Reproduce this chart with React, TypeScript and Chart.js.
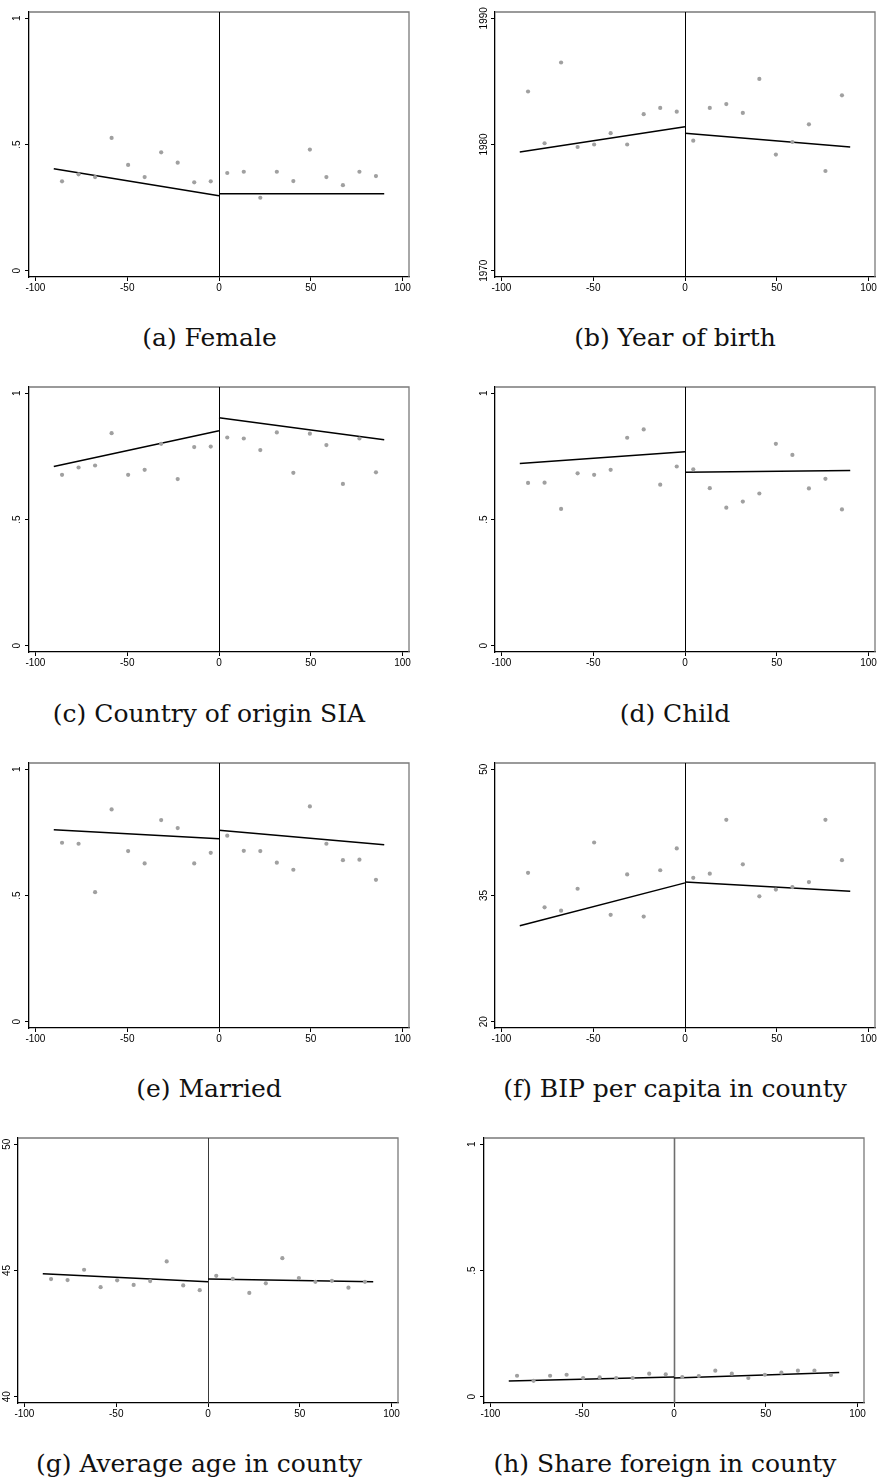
import React, { useEffect, useRef } from "react";
import { Chart, registerables } from "chart.js";

Chart.register(...registerables);

// Bin midpoints of the running variable (distance to threshold)
const binX = [
  -85.5, -76.5, -67.5, -58.5, -49.5, -40.5, -31.5, -22.5, -13.5, -4.5,
  4.5, 13.5, 22.5, 31.5, 40.5, 49.5, 58.5, 67.5, 76.5, 85.5,
];
// Linear fits on each side of the cutoff
const fitXLeft = [-90, 0];
const fitXRight = [0, 90];
const xTicks = [-100, -50, 0, 50, 100];

// (a) Female
const femaleMeans = [0.354, 0.382, 0.371, 0.526, 0.419, 0.371, 0.469, 0.428, 0.35, 0.354, 0.387, 0.392, 0.289, 0.392, 0.355, 0.48, 0.371, 0.339, 0.392, 0.375];
const femaleFitLeft = [0.404, 0.297];
const femaleFitRight = [0.305, 0.305];

// (b) Year of birth
const birthYearMeans = [1984.2, 1980.1, 1986.5, 1979.8, 1980.0, 1980.9, 1980.0, 1982.4, 1982.9, 1982.6, 1980.3, 1982.9, 1983.2, 1982.5, 1985.2, 1979.2, 1980.2, 1981.6, 1977.9, 1983.9];
const birthYearFitLeft = [1979.4, 1981.4];
const birthYearFitRight = [1980.9, 1979.8];

// (c) Country of origin SIA
const originMeans = [0.677, 0.706, 0.714, 0.842, 0.677, 0.697, 0.8, 0.66, 0.787, 0.789, 0.825, 0.821, 0.775, 0.845, 0.685, 0.84, 0.795, 0.641, 0.821, 0.687];
const originFitLeft = [0.71, 0.852];
const originFitRight = [0.903, 0.816];

// (d) Child
const childMeans = [0.645, 0.646, 0.542, 0.683, 0.677, 0.697, 0.824, 0.857, 0.638, 0.71, 0.699, 0.624, 0.547, 0.571, 0.603, 0.8, 0.756, 0.623, 0.661, 0.54];
const childFitLeft = [0.722, 0.768];
const childFitRight = [0.687, 0.694];

// (e) Married
const marriedMeans = [0.709, 0.705, 0.513, 0.841, 0.676, 0.627, 0.799, 0.767, 0.627, 0.669, 0.737, 0.677, 0.676, 0.63, 0.602, 0.853, 0.705, 0.64, 0.642, 0.562];
const marriedFitLeft = [0.761, 0.725];
const marriedFitRight = [0.759, 0.701];

// (f) BIP per capita in county
const bipMeans = [37.7, 33.6, 33.2, 35.8, 41.3, 32.7, 37.5, 32.5, 38.0, 40.6, 37.1, 37.6, 44.0, 38.7, 34.9, 35.7, 36.0, 36.6, 44.0, 39.2];
const bipFitLeft = [31.4, 36.5];
const bipFitRight = [36.6, 35.5];

// (g) Average age in county
const ageMeans = [44.66, 44.62, 45.03, 44.34, 44.61, 44.43, 44.58, 45.36, 44.41, 44.22, 44.79, 44.67, 44.11, 44.49, 45.49, 44.7, 44.55, 44.59, 44.32, 44.55];
const ageFitLeft = [44.87, 44.55];
const ageFitRight = [44.66, 44.55];

// (h) Share foreign in county
const foreignMeans = [0.083, 0.063, 0.083, 0.087, 0.074, 0.077, 0.074, 0.074, 0.091, 0.089, 0.078, 0.082, 0.103, 0.091, 0.074, 0.087, 0.095, 0.103, 0.103, 0.086];
const foreignFitLeft = [0.062, 0.078];
const foreignFitRight = [0.074, 0.096];

// y-axis tick values and their labels
const shareTicks = [0, 0.5, 1];
const shareTickLabels = ["0", ".5", "1"];
const yearTicks = [1970, 1980, 1990];
const yearTickLabels = ["1970", "1980", "1990"];
const bipTicks = [20, 35, 50];
const bipTickLabels = ["20", "35", "50"];
const ageTicks = [40, 45, 50];
const ageTickLabels = ["40", "45", "50"];

type PanelSpec = {
  caption: string;
  means: number[];
  fitLeft: number[];
  fitRight: number[];
  yTicks: number[];
  yLabels: string[];
  yMin: number;
  yMax: number;
};

const panels: PanelSpec[] = [
  { caption: "(a) Female", means: femaleMeans, fitLeft: femaleFitLeft, fitRight: femaleFitRight, yTicks: shareTicks, yLabels: shareTickLabels, yMin: -0.025, yMax: 1.025 },
  { caption: "(b) Year of birth", means: birthYearMeans, fitLeft: birthYearFitLeft, fitRight: birthYearFitRight, yTicks: yearTicks, yLabels: yearTickLabels, yMin: 1969.5, yMax: 1990.5 },
  { caption: "(c) Country of origin SIA", means: originMeans, fitLeft: originFitLeft, fitRight: originFitRight, yTicks: shareTicks, yLabels: shareTickLabels, yMin: -0.025, yMax: 1.025 },
  { caption: "(d) Child", means: childMeans, fitLeft: childFitLeft, fitRight: childFitRight, yTicks: shareTicks, yLabels: shareTickLabels, yMin: -0.025, yMax: 1.025 },
  { caption: "(e) Married", means: marriedMeans, fitLeft: marriedFitLeft, fitRight: marriedFitRight, yTicks: shareTicks, yLabels: shareTickLabels, yMin: -0.025, yMax: 1.025 },
  { caption: "(f) BIP per capita in county", means: bipMeans, fitLeft: bipFitLeft, fitRight: bipFitRight, yTicks: bipTicks, yLabels: bipTickLabels, yMin: 19.25, yMax: 50.75 },
  { caption: "(g) Average age in county", means: ageMeans, fitLeft: ageFitLeft, fitRight: ageFitRight, yTicks: ageTicks, yLabels: ageTickLabels, yMin: 39.75, yMax: 50.25 },
  { caption: "(h) Share foreign in county", means: foreignMeans, fitLeft: foreignFitLeft, fitRight: foreignFitRight, yTicks: shareTicks, yLabels: shareTickLabels, yMin: -0.025, yMax: 1.025 },
];

// Page placement of each plot box and its caption
const BOX_W = 380;
const BOX_H = 265;
const PAD_L = 34;
const PAD_T = 6;
const PAD_R = 12;
const PAD_B = 24;

type Placement = {
  left: number;
  top: number;
  captionX: number;
  captionBaseline: number;
  labelGap: number;
  cutColor: string;
  cutWidth: number;
};

const placements: Placement[] = [
  { left: 29, top: 12, captionX: 209.5, captionBaseline: 347, labelGap: 9, cutColor: "#000", cutWidth: 1 },
  { left: 495, top: 12, captionX: 675, captionBaseline: 347, labelGap: 8.5, cutColor: "#000", cutWidth: 1 },
  { left: 29, top: 387, captionX: 209, captionBaseline: 723, labelGap: 9, cutColor: "#000", cutWidth: 1 },
  { left: 495, top: 387, captionX: 675, captionBaseline: 723, labelGap: 8.5, cutColor: "#000", cutWidth: 1 },
  { left: 29, top: 763, captionX: 209, captionBaseline: 1098, labelGap: 9, cutColor: "#000", cutWidth: 1 },
  { left: 495, top: 763, captionX: 675, captionBaseline: 1098, labelGap: 8.5, cutColor: "#000", cutWidth: 1 },
  { left: 18, top: 1138, captionX: 199, captionBaseline: 1473, labelGap: 8, cutColor: "#3a3a3a", cutWidth: 1 },
  { left: 484, top: 1138, captionX: 665, captionBaseline: 1473, labelGap: 9, cutColor: "#6e6e6e", cutWidth: 1.6 },
];

const TICK_FONT = { family: "'Liberation Sans', Arial, sans-serif", size: 10 };

function RdPanel({ spec, place }: { spec: PanelSpec; place: Placement }) {
  const ref = useRef<HTMLCanvasElement | null>(null);

  useEffect(() => {
    const canvas = ref.current;
    if (!canvas) return;

    const framePlugin = {
      id: "rdFrame",
      beforeDatasetsDraw(chart: any) {
        const { ctx, chartArea, scales } = chart;
        const { left, right, top, bottom } = chartArea;
        ctx.save();
        // outer frame on top and right
        ctx.strokeStyle = "#7a7a7a";
        ctx.lineWidth = 1.3;
        ctx.beginPath();
        ctx.moveTo(left, top);
        ctx.lineTo(right, top);
        ctx.lineTo(right, bottom);
        ctx.stroke();
        // cutoff line, snapped to the pixel grid
        const x0 = Math.round(scales.x.getPixelForValue(0)) + 0.5;
        ctx.strokeStyle = place.cutColor;
        ctx.lineWidth = place.cutWidth;
        ctx.beginPath();
        ctx.moveTo(x0, top);
        ctx.lineTo(x0, bottom);
        ctx.stroke();
        ctx.restore();
      },
      afterDraw(chart: any) {
        // rotated y tick labels, reading bottom to top
        const { ctx, chartArea, scales } = chart;
        ctx.save();
        ctx.fillStyle = "#000";
        ctx.font = `${TICK_FONT.size}px ${TICK_FONT.family}`;
        ctx.textAlign = "center";
        ctx.textBaseline = "alphabetic";
        spec.yTicks.forEach((v, i) => {
          const py = scales.y.getPixelForValue(v);
          ctx.save();
          ctx.translate(chartArea.left - place.labelGap, py);
          ctx.rotate(-Math.PI / 2);
          ctx.fillText(spec.yLabels[i], 0, 0);
          ctx.restore();
        });
        ctx.restore();
      },
    };

    const chart = new Chart(canvas, {
      type: "scatter",
      data: {
        datasets: [
          {
            data: binX.map((x, i) => ({ x, y: spec.means[i] })),
            pointRadius: 2.1,
            pointBackgroundColor: "#a0a0a0",
            pointBorderWidth: 0,
            showLine: false,
          },
          {
            data: fitXLeft.map((x, i) => ({ x, y: spec.fitLeft[i] })),
            showLine: true,
            pointRadius: 0,
            borderColor: "#000",
            borderWidth: 1.5,
          },
          {
            data: fitXRight.map((x, i) => ({ x, y: spec.fitRight[i] })),
            showLine: true,
            pointRadius: 0,
            borderColor: "#000",
            borderWidth: 1.5,
          },
        ],
      },
      options: {
        animation: false,
        responsive: false,
        maintainAspectRatio: false,
        devicePixelRatio: 1,
        events: [],
        layout: { padding: { left: 0, top: PAD_T, right: PAD_R, bottom: 0 } },
        plugins: { legend: { display: false }, tooltip: { enabled: false } },
        scales: {
          x: {
            type: "linear",
            min: -103.5,
            max: 103.5,
            afterBuildTicks: (s: any) => {
              s.ticks = xTicks.map((v) => ({ value: v }));
            },
            afterFit: (s: any) => {
              s.height = PAD_B;
            },
            border: { display: true, color: "#000", width: 1.3 },
            grid: { display: true, drawOnChartArea: false, drawTicks: true, tickLength: 4, tickColor: "#000", tickWidth: 1 },
            ticks: {
              font: TICK_FONT,
              color: "#000",
              padding: 1,
              autoSkip: false,
              maxRotation: 0,
              callback: (v: any) => String(v),
            },
          },
          y: {
            type: "linear",
            min: spec.yMin,
            max: spec.yMax,
            afterBuildTicks: (s: any) => {
              s.ticks = spec.yTicks.map((v) => ({ value: v }));
            },
            afterFit: (s: any) => {
              s.width = PAD_L;
            },
            border: { display: true, color: "#000", width: 1.3 },
            grid: { display: true, drawOnChartArea: false, drawTicks: true, tickLength: 4, tickColor: "#000", tickWidth: 1 },
            ticks: { display: false },
          },
        },
      },
      plugins: [framePlugin],
    } as any);

    return () => chart.destroy();
  }, [spec, place]);

  const cw = BOX_W + PAD_L + PAD_R;
  const ch = BOX_H + PAD_T + PAD_B;
  const captionFont = 25;
  const lineH = 30;
  // baseline sits about 23.65px below the top of a 30px line box for this face
  const captionTop = place.captionBaseline - 23.65;

  return (
    <>
      <canvas
        ref={ref}
        width={cw}
        height={ch}
        style={{
          position: "absolute",
          left: place.left - PAD_L,
          top: place.top - PAD_T,
          width: cw,
          height: ch,
          display: "block",
        }}
      />
      <div
        style={{
          position: "absolute",
          left: place.captionX - 220,
          top: captionTop,
          width: 440,
          textAlign: "center",
          fontFamily: "'DejaVu Serif', serif",
          fontSize: captionFont,
          lineHeight: `${lineH}px`,
          color: "#111",
          whiteSpace: "nowrap",
        }}
      >
        {spec.caption}
      </div>
    </>
  );
}

export default function App() {
  return (
    <div
      style={{
        position: "absolute",
        left: 0,
        top: 0,
        width: 877,
        height: 1479,
        overflow: "hidden",
        background: "#fff",
      }}
    >
      {panels.map((spec, i) => (
        <RdPanel key={spec.caption} spec={spec} place={placements[i]} />
      ))}
    </div>
  );
}
